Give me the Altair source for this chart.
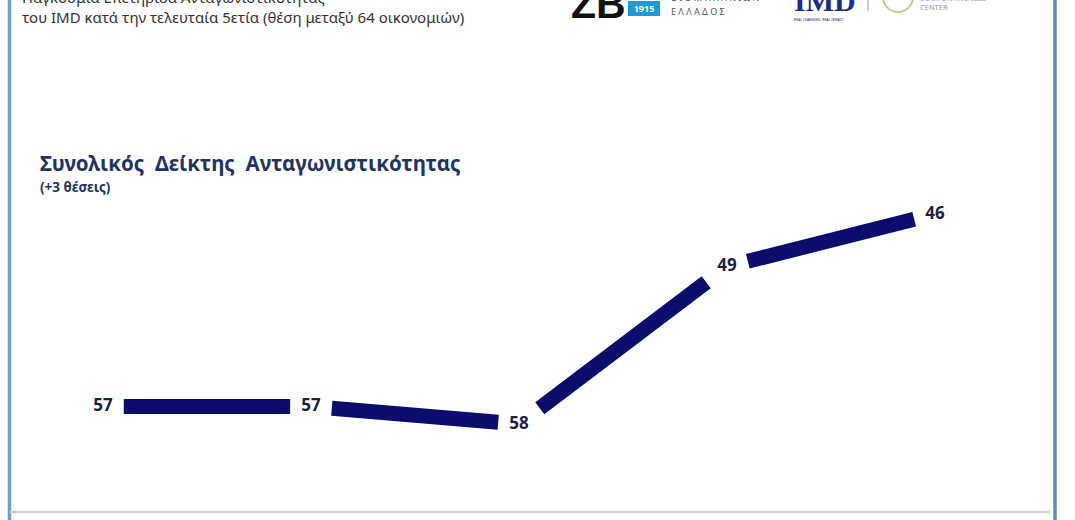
import altair as alt
import pandas as pd

# ---- data ----
years = [2017, 2018, 2019, 2020, 2021]
ranks = [57, 57, 58, 49, 46]
title_text = "Συνολικός\u00a0\u00a0Δείκτης\u00a0\u00a0Ανταγωνιστικότητας"
subtitle_text = "(+3 θέσεις)"
header_line1 = "Παγκόσμια Επετηρίδα Ανταγωνιστικότητας"
header_line2 = "του IMD κατά την τελευταία 5ετία (θέση μεταξύ 64 οικονομιών)"

W, H = 1075, 520
GAP = 0.1  # fraction of each segment left blank around the labels

pts = pd.DataFrame({"year": years, "rank": ranks, "label": [str(r) for r in ranks]})

seg_rows = []
for i in range(len(years) - 1):
    x0, x1 = years[i], years[i + 1]
    y0, y1 = ranks[i], ranks[i + 1]
    seg_rows.append({
        "xa": x0 + GAP * (x1 - x0), "xb": x1 - GAP * (x1 - x0),
        "ya": y0 + GAP * (y1 - y0), "yb": y1 - GAP * (y1 - y0),
    })
segs = pd.DataFrame(seg_rows)

xscale = alt.Scale(domain=[2016.505, 2021.673], nice=False, zero=False)
yscale = alt.Scale(domain=[33.77, 63.49], reverse=True, nice=False, zero=False)

dummy = pd.DataFrame({"a": [0]})


def txt(text, x, y, size=13, color="#333333", weight="normal", align="left",
        font="Noto Sans", baseline="middle"):
    return alt.Chart(dummy).mark_text(
        text=text, align=align, baseline=baseline, fontSize=size, color=color,
        fontWeight=weight, font=font
    ).encode(x=alt.value(x), y=alt.value(y))


def rule(x, x2, y, y2, color, width):
    return alt.Chart(dummy).mark_rule(color=color, strokeWidth=width).encode(
        x=alt.value(x), x2=alt.value(x2), y=alt.value(y), y2=alt.value(y2)
    )


# frame
left_border = rule(9.5, 9.5, 0, 520, "#6f9cc8", 3.5)
right_border = rule(1055, 1055, 0, 520, "#5f8db8", 3.5)
bottom_line = rule(10, 1050, 512, 512, "#d4d4d4", 2.5)

# header texts
h1 = txt(header_line1, 22, -2, size=15, color="#333333")
h2 = txt(header_line2, 22, 18, size=15, color="#333333")

# logos (approximated with text/shapes)
zb = txt("ZB", 571, 6, size=41, color="#111111", weight="bold", font="Liberation Sans")
box = alt.Chart(dummy).mark_rect(color="#1e9ad6").encode(
    x=alt.value(628), x2=alt.value(660), y=alt.value(1), y2=alt.value(16))
box_t = txt("1915", 644, 9, size=9, color="white", weight="bold", align="center")
vio = txt("Β Ι Ο Μ Η Χ Α Ν Ι Ω Ν", 671, -2, size=9, color="#555555")
ell = txt("Ε Λ Λ Α Δ Ο Σ", 671, 12, size=9, color="#555555")
imd = txt("IMD", 794, 11, size=30, color="#1a2f8c", weight="bold",
          font="Liberation Serif", baseline="alphabetic")
imd_small = txt("REAL LEARNING. REAL IMPACT", 794, 18, size=3.5, color="#1a2f8c",
                baseline="top")
sep = rule(868, 868, 0, 11, "#999999", 1)
circ = alt.Chart(dummy).mark_point(shape="circle", size=900, stroke="#9bbf6a",
                                   strokeWidth=2, filled=False).encode(
    x=alt.value(898), y=alt.value(-3))
comp1 = txt("COMPETITIVENESS", 920, -1, size=7.5, color="#999999")
comp2 = txt("CENTER", 920, 8, size=7.5, color="#999999")

# chart titles
title = txt(title_text, 40, 165, size=20.5, color="#1f3460", weight="bold")
subtitle = txt(subtitle_text, 40, 188, size=13.5, color="#1f3460", weight="bold")

# data layers
lines = alt.Chart(segs).mark_rule(color="#0b0c6b", strokeWidth=15, strokeCap="butt").encode(
    x=alt.X("xa:Q", scale=xscale, axis=None),
    x2="xb:Q",
    y=alt.Y("ya:Q", scale=yscale, axis=None),
    y2="yb:Q",
)
labels = alt.Chart(pts).mark_text(fontSize=17, fontWeight="bold", color="#1c2340",
                                  font="Noto Sans", baseline="middle").encode(
    x=alt.X("year:Q", scale=xscale, axis=None),
    y=alt.Y("rank:Q", scale=yscale, axis=None),
    text="label:N",
)

chart = alt.layer(
    left_border, right_border, bottom_line,
    h1, h2, zb, box, box_t, vio, ell, imd, imd_small, sep, circ, comp1, comp2,
    title, subtitle, lines, labels,
).properties(
    width=W, height=H, padding=0, background="white",
    autosize=alt.AutoSizeParams(type="none"),
).configure_view(stroke=None)

chart.save("out.html", embed_options={"renderer": "svg", "actions": False})
